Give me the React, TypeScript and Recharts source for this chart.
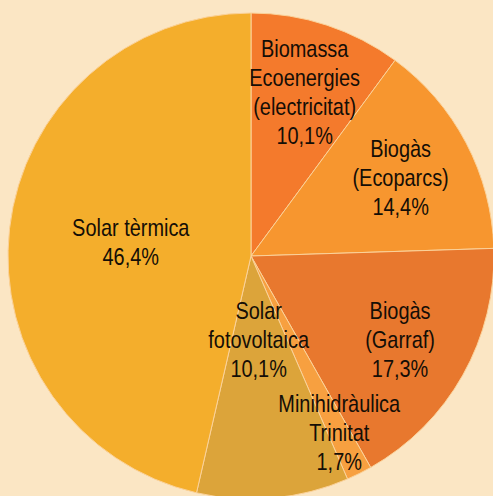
import { PieChart, Pie, Cell } from "recharts";

const categories = [
  "Biomassa\nEcoenergies\n(electricitat)",
  "Biogàs\n(Ecoparcs)",
  "Biogàs\n(Garraf)",
  "Minihidràulica\nTrinitat",
  "Solar\nfotovoltaica",
  "Solar tèrmica",
];
const shares = [10.1, 14.4, 17.3, 1.7, 10.1, 46.4];

const colors = ["#f47a2c", "#f7962f", "#e8782e", "#f7a040", "#dca43a", "#f4ae2c"];
// distance of each label from the centre (px)
const labelRadius = [172, 169, 171, 198, 84, 121];

const data = categories.map((name, i) => ({ name, value: shares[i] }));

const RAD = Math.PI / 180;

function renderLabel(props: any) {
  const { cx, cy, midAngle, index, name, value } = props;
  const r = labelRadius[index];
  const x = cx + r * Math.cos(-midAngle * RAD);
  const y = cy + r * Math.sin(-midAngle * RAD);
  const lines = [...String(name).split("\n"), value.toFixed(1).replace(".", ",") + "%"];
  const lh = 29;
  // condensed look: squeeze horizontally around the label centre
  return (
    <g transform={`translate(${x},${y}) scale(0.83,1)`}>
      <text
        x={0}
        y={0}
        textAnchor="middle"
        fill="#140e06"
        fontSize={24}
        fontFamily="'Liberation Sans', Arial, sans-serif"
      >
        {lines.map((l, i) => (
          <tspan key={i} x={0} y={(i - (lines.length - 1) / 2) * lh} dominantBaseline="central">
            {l}
          </tspan>
        ))}
      </text>
    </g>
  );
}

export default function App() {
  return (
    <div style={{ position: "fixed", left: 0, top: 0, width: 493, height: 496, background: "#fbe6c4" }}>
      <PieChart width={493} height={496} margin={{ top: 0, right: 0, bottom: 0, left: 0 }}>
        <Pie
          data={data}
          dataKey="value"
          nameKey="name"
          cx={251}
          cy={256}
          outerRadius={243}
          startAngle={90}
          endAngle={-270}
          stroke="#fbd29a"
          strokeWidth={1}
          label={renderLabel}
          labelLine={false}
          isAnimationActive={false}
        >
          {data.map((d, i) => (
            <Cell key={d.name} fill={colors[i]} />
          ))}
        </Pie>
      </PieChart>
    </div>
  );
}
